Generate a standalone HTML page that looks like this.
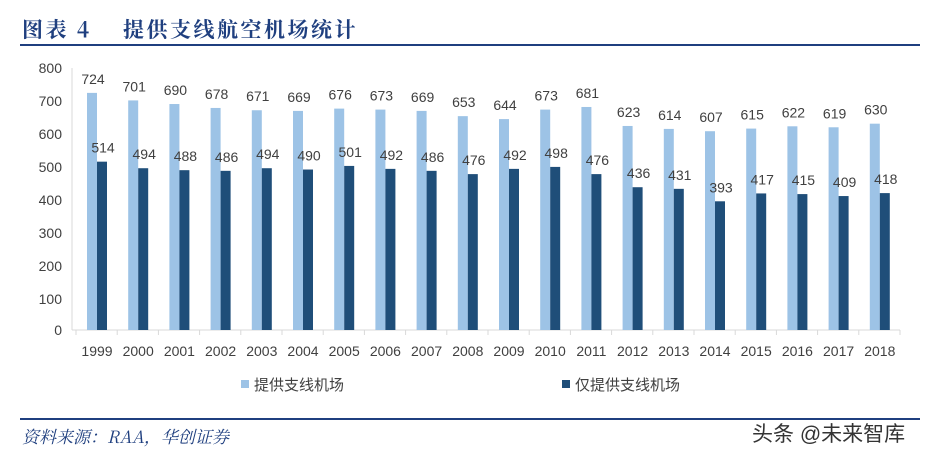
<!DOCTYPE html>
<html><head><meta charset="utf-8"><style>
body{margin:0;background:#fff;width:937px;height:460px;overflow:hidden;position:relative;font-family:"Liberation Sans","Noto Sans CJK SC",sans-serif}
</style></head><body>
<svg width="937" height="460" style="position:absolute;left:0;top:0">
<text x="22" y="37" font-family="'Noto Serif CJK SC',serif" font-weight="bold" font-size="21" letter-spacing="2.5" fill="#1f3f7f">图表 4　 提供支线航空机场统计</text>
<line x1="20" y1="45" x2="920" y2="45" stroke="#1f3f7f" stroke-width="2"/>
<g font-size="14" fill="#404040" text-anchor="end" font-family="'Liberation Sans',sans-serif">
<text x="62" y="73">800</text><text x="62" y="106">700</text><text x="62" y="139">600</text><text x="62" y="172">500</text><text x="62" y="205">400</text><text x="62" y="238">300</text><text x="62" y="271">200</text><text x="62" y="304">100</text><text x="62" y="335">0</text>
</g>
<line x1="72" y1="68" x2="72" y2="330" stroke="#d9d9d9"/>
<line x1="72" y1="330" x2="900" y2="330" stroke="#d9d9d9"/>
<g id="g"></g>
<rect x="241" y="380" width="8" height="8" fill="#9dc3e6"/>
<text x="254" y="390" font-size="15" fill="#404040">提供支线机场</text>
<rect x="562" y="380" width="8" height="8" fill="#1f4e79"/>
<text x="575" y="390" font-size="15" fill="#404040">仅提供支线机场</text>
<line x1="20" y1="419" x2="920" y2="419" stroke="#1f3f7f" stroke-width="2"/>
<text x="22" y="443" font-family="'Noto Serif CJK SC',serif" font-style="italic" font-size="17" fill="#1f3f7f">资料来源：RAA，华创证券</text>
<text x="752" y="441" font-size="21" fill="#333">头条 @未来智库</text>
</svg>
<script>
var a=[724,701,690,678,671,669,676,673,669,653,644,673,681,623,614,607,615,622,619,630];
var b=[514,494,488,486,494,490,501,492,486,476,492,498,476,436,431,393,417,415,409,418];
var s='',sc=262/800;
for(var i=0;i<20;i++){var c=97+i*41.2;
var h1=a[i]*sc,h2=b[i]*sc;
s+='<rect x="'+(c-10)+'" y="'+(330-h1)+'" width="10" height="'+h1+'" fill="#9dc3e6"/>';
s+='<rect x="'+c+'" y="'+(330-h2)+'" width="10" height="'+h2+'" fill="#1f4e79"/>';
s+='<text x="'+(c-4)+'" y="'+(330-h1-9)+'" font-size="14" fill="#404040" text-anchor="middle">'+a[i]+'</text>';
s+='<text x="'+(c+6)+'" y="'+(330-h2-9)+'" font-size="14" fill="#404040" text-anchor="middle">'+b[i]+'</text>';
s+='<text x="'+c+'" y="356" font-size="14" fill="#404040" text-anchor="middle">'+(1999+i)+'</text>';
s+='<line x1="'+(c-21)+'" y1="330" x2="'+(c-21)+'" y2="335" stroke="#d9d9d9"/>';}
s+='<line x1="900" y1="330" x2="900" y2="335" stroke="#d9d9d9"/>';
document.getElementById('g').innerHTML=s;
</script>
</body></html>
